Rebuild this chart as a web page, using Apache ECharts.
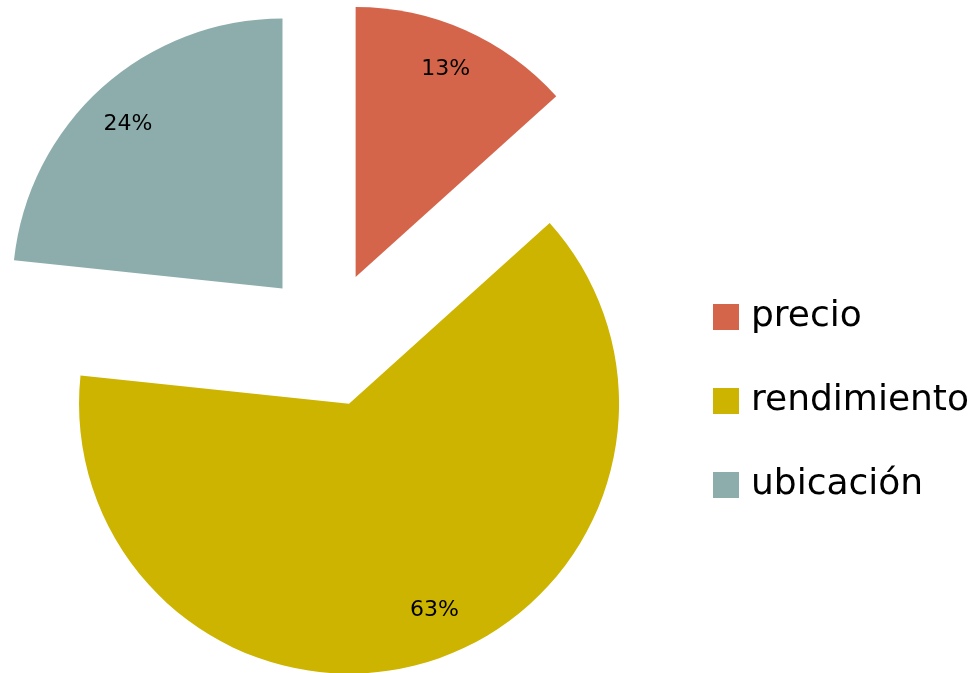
<!DOCTYPE html>
<html>
<head>
<meta charset="utf-8">
<script src="https://cdn.jsdelivr.net/npm/echarts@6/dist/echarts.min.js"></script>
<style>html,body{margin:0;padding:0;background:#fff;}#c{width:977px;height:673px;}</style>
</head>
<body>
<div id="c"></div>
<script>
const categories = ['precio', 'rendimiento', 'ubicación'];
const values = [13.33, 63.33, 23.34];
const pctLabels = ['13%', '63%', '24%'];
const colors = ['#D4654B', '#CDB400', '#8DADAD'];
// small per-slice nudges of the percentage labels (style only)
const labelNudge = [[-4, 3], [14, -13], [0, 7]];

const chart = echarts.init(document.getElementById('c'));
const mk = (transparent) => categories.map((n, i) => ({
  name: n, value: values[i], selected: true,
  itemStyle: { color: transparent ? 'rgba(0,0,0,0)' : colors[i] }
}));
chart.setOption({
  animation: false,
  legend: {
    data: categories,
    orient: 'vertical',
    left: 708, top: 294,
    itemWidth: 26, itemHeight: 26, itemGap: 48, itemTextGap: 17,
    icon: 'rect',
    textStyle: { fontFamily: 'DejaVu Sans', fontSize: 36, color: '#000', padding: [0, 0, 0, 7] }
  },
  series: [
    {
      type: 'pie', center: [328, 339], radius: 270, startAngle: 90, clockwise: true,
      selectedMode: 'multiple', selectedOffset: 68, silent: true,
      label: { show: false }, labelLine: { show: false },
      data: mk(false)
    },
    {
      type: 'pie', center: [328, 339], radius: [186, 270], startAngle: 90, clockwise: true,
      selectedMode: 'multiple', selectedOffset: 68, silent: true,
      label: {
        show: true, position: 'inside',
        formatter: (p) => pctLabels[p.dataIndex],
        fontFamily: 'DejaVu Sans', fontSize: 22, color: '#000'
      },
      labelLayout: (p) => ({ dx: labelNudge[p.dataIndex][0], dy: labelNudge[p.dataIndex][1] }),
      labelLine: { show: false },
      data: mk(true)
    }
  ]
});
</script>
</body>
</html>
